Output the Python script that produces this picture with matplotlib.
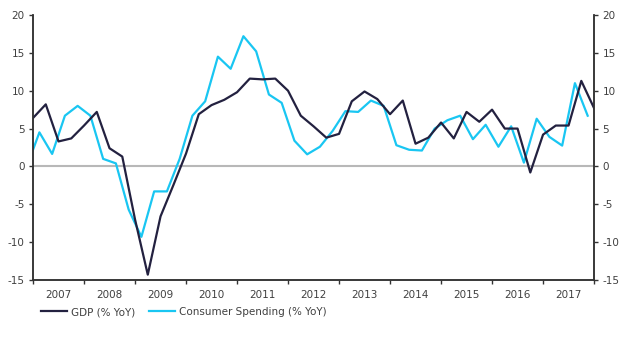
import numpy as np
import matplotlib
matplotlib.use("Agg")
import matplotlib.pyplot as plt

plt.rcParams["axes.unicode_minus"] = False

# Quarterly values, 2007Q1 .. 2018Q1
YEARS = [str(y) for y in range(2007, 2018)]
GDP = [6.4, 8.2, 3.3, 3.7, 5.4, 7.2, 2.4, 1.3, -7.0, -14.3,
       -6.6, -2.5, 1.7, 6.9, 8.1, 8.8, 9.8, 11.6, 11.5, 11.6,
       10.0, 6.7, 5.3, 3.8, 4.3, 8.6, 9.9, 8.9, 6.9, 8.7,
       3.0, 3.8, 5.8, 3.7, 7.2, 5.9, 7.5, 5.0, 5.0, -0.8,
       4.2, 5.4, 5.4, 11.3, 7.7]
# consumer spending is drawn half a quarter earlier than GDP
SPENDING = [-0.1, 4.5, 1.65, 6.7, 8.0, 6.7, 1.0, 0.4, -5.7, -9.3,
            -3.3, -3.3, 1.0, 6.7, 8.6, 14.5, 12.9, 17.2, 15.2, 9.5,
            8.4, 3.4, 1.6, 2.6, 4.7, 7.3, 7.2, 8.7, 8.0, 2.8,
            2.2, 2.1, 5.0, 6.1, 6.7, 3.6, 5.5, 2.6, 5.3, 0.5,
            6.3, 3.9, 2.75, 11.0, 6.7]

NAVY = "#232140"
CYAN = "#19c6f2"
TXT = "#404040"

q_gdp = np.arange(len(GDP))
q_spend = np.arange(len(SPENDING)) - 0.5

fig = plt.figure(figsize=(6.4, 3.46), dpi=100)
ax = fig.add_axes([0.0516, 0.1908, 0.8766, 0.7658])

ax.axhline(0, color="#b8b8b8", lw=1.5, zorder=1)
ax.plot(q_gdp, GDP, color=NAVY, lw=1.6, label="GDP (% YoY)", zorder=3)
ax.plot(q_spend, SPENDING, color=CYAN, lw=1.6, label="Consumer Spending (% YoY)", zorder=2)

ax.set_xlim(0, 4 * len(YEARS))
ax.set_ylim(-15, 20)
ax.set_yticks(range(-15, 21, 5))

# year boundaries get ticks, labels sit in the middle of each year
ax.set_xticks(range(0, 4 * len(YEARS) + 1, 4))
ax.set_xticklabels([])
ax.set_xticks([4 * i + 2 for i in range(len(YEARS))], minor=True)
ax.set_xticklabels(YEARS, minor=True)
ax.tick_params(axis="x", which="minor", length=0, pad=7, labelsize=7.5, labelcolor=TXT)
ax.tick_params(axis="x", which="major", length=3, width=1, color="#333333", direction="out")
ax.tick_params(axis="y", length=3, width=1, color="#333333", labelsize=7.5, labelcolor=TXT, pad=3)

ax2 = ax.twinx()
ax2.set_ylim(ax.get_ylim())
ax2.set_yticks(range(-15, 21, 5))
ax2.tick_params(axis="y", length=3, width=1, color="#333333", labelsize=7.5, labelcolor=TXT, pad=3)

for a in (ax, ax2):
    a.spines["top"].set_visible(False)
    for s in ("left", "right", "bottom"):
        a.spines[s].set_color("#333333")
        a.spines[s].set_linewidth(1.1)

fig.legend(loc="center left", bbox_to_anchor=(0.05, 0.098), ncol=2, frameon=False,
           fontsize=7.5, handlelength=2.5, handletextpad=0.3, columnspacing=1.4,
           labelcolor=TXT)

fig.savefig("out.png", dpi=100)
